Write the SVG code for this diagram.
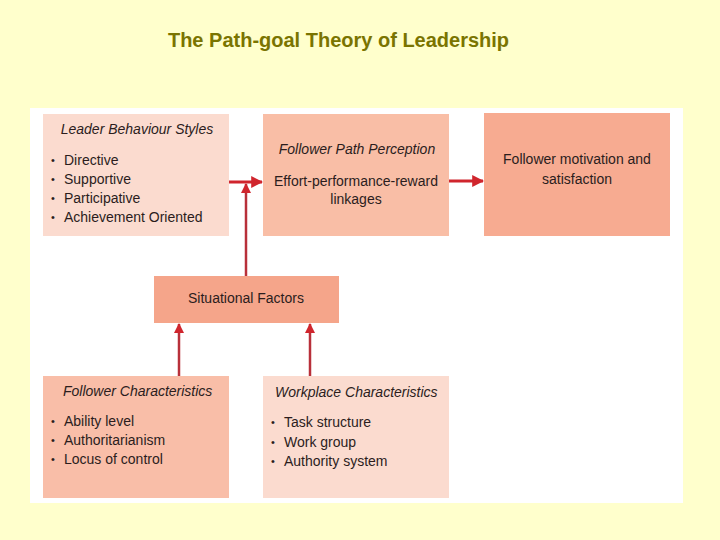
<svg xmlns="http://www.w3.org/2000/svg" width="720" height="540" viewBox="0 0 720 540">
<defs>
<style>
text{font-family:"Liberation Sans",Arial,sans-serif;fill:#2b1d1d;font-size:14px}
.it{font-style:italic}
.c{text-anchor:middle}
.b{font-size:11px}
.ttl{font-weight:bold;font-size:20px;fill:#7a7400}
.ln{stroke:#d0252d;stroke-width:3;fill:none}
.lv{stroke:#b8303a;stroke-width:2.5;fill:none}
</style>
<marker id="ah" viewBox="0 0 10 10" refX="9" refY="5" markerWidth="4" markerHeight="4" orient="auto"><path d="M0,0L10,5L0,10z" fill="#d0252d"/></marker>
</defs>
<rect width="720" height="540" fill="#ffffcc"/>
<text class="ttl" x="338.5" y="47" text-anchor="middle">The Path-goal Theory of Leadership</text>
<rect x="30" y="108" width="653" height="395" fill="#ffffff"/>
<g id="leader">
<rect x="43" y="114" width="186" height="122" fill="#fbdbcf"/>
<text class="it c" x="137" y="134">Leader Behaviour Styles</text>
<text class="b" x="51" y="164">•</text><text x="64" y="165">Directive</text>
<text class="b" x="51" y="183">•</text><text x="64" y="184">Supportive</text>
<text class="b" x="51" y="202">•</text><text x="64" y="203">Participative</text>
<text class="b" x="51" y="221">•</text><text x="64" y="222">Achievement Oriented</text>
</g>
<g id="path">
<rect x="263" y="114" width="186" height="122" fill="#f9bea6"/>
<text class="it c" x="357" y="154">Follower Path Perception</text>
<text class="c" x="356" y="186">Effort-performance-reward</text>
<text class="c" x="356" y="204">linkages</text>
</g>
<g id="motivation">
<rect x="484" y="113" width="186" height="123" fill="#f7ab91"/>
<text class="c" x="577" y="164">Follower motivation and</text>
<text class="c" x="577" y="184">satisfaction</text>
</g>
<g id="situational">
<rect x="154" y="276" width="185" height="47" fill="#f5a58a"/>
<text class="c" x="246" y="303">Situational Factors</text>
</g>
<g id="follower">
<rect x="43" y="376" width="186" height="122" fill="#f9bea8"/>
<text class="it" x="63" y="396">Follower Characteristics</text>
<text class="b" x="51" y="425">•</text><text x="64" y="426">Ability level</text>
<text class="b" x="51" y="444">•</text><text x="64" y="445">Authoritarianism</text>
<text class="b" x="51" y="463">•</text><text x="64" y="464">Locus of control</text>
</g>
<g id="workplace">
<rect x="263" y="376" width="186" height="122" fill="#fbdbcf"/>
<text class="it" x="275" y="397">Workplace Characteristics</text>
<text class="b" x="271" y="426">•</text><text x="284" y="427">Task structure</text>
<text class="b" x="271" y="446">•</text><text x="284" y="447">Work group</text>
<text class="b" x="271" y="465">•</text><text x="284" y="466">Authority system</text>
</g>
<g id="connectors">
<line class="ln" x1="229" y1="182" x2="262" y2="182" marker-end="url(#ah)"/>
<line class="ln" x1="449" y1="181" x2="483" y2="181" marker-end="url(#ah)"/>
<line class="lv" x1="246" y1="276" x2="246" y2="184" marker-end="url(#ah)"/>
<line class="lv" x1="179" y1="376" x2="179" y2="324" marker-end="url(#ah)"/>
<line class="lv" x1="310" y1="376" x2="310" y2="324" marker-end="url(#ah)"/>
</g>
</svg>
